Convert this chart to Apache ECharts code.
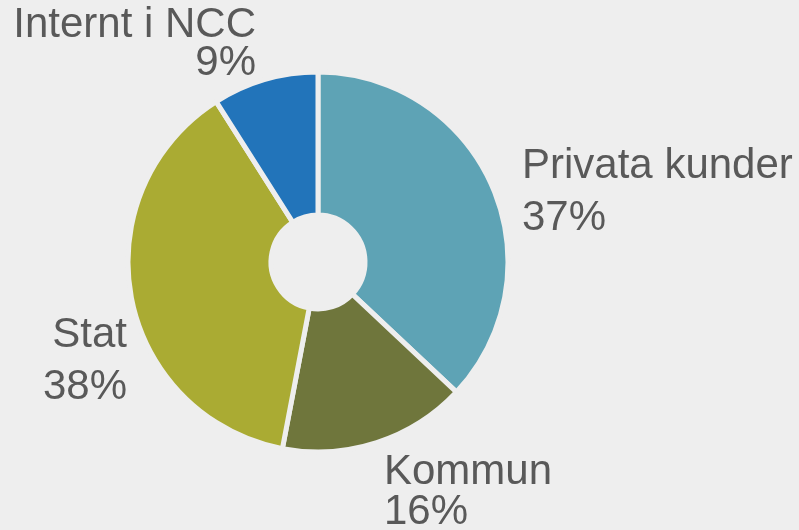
<!DOCTYPE html>
<html lang="sv">
<head>
    <meta charset="UTF-8">
    <title>Kunder</title>
    <script src="https://cdn.jsdelivr.net/npm/echarts/dist/echarts.min.js"></script>
    <style>
        html, body {
            margin: 0;
            padding: 0;
            background-color: #eeeeee;
        }
        #chart {
            width: 799px;
            height: 530px;
        }
    </style>
</head>
<body>
    <div id="chart"></div>

    <script>
        const categories = ['Privata kunder', 'Kommun', 'Stat', 'Internt i NCC'];
        const shares = [37, 16, 38, 9];
        const sliceColors = ['#5ea3b5', '#6f763c', '#aaab33', '#2274ba'];

        // where each label block sits (text block centre, PowerPoint-style placement)
        const labelSpots = [
            { x: 522, y: 192, align: 'left', lineHeight: 52 },
            { x: 384, y: 492, align: 'left', lineHeight: 40 },
            { x: 127, y: 361, align: 'right', lineHeight: 52 },
            { x: 256, y: 44, align: 'right', lineHeight: 38 }
        ];

        const chart = echarts.init(document.getElementById('chart'));

        const pieData = categories.map(function (name, i) {
            return {
                name: name,
                value: shares[i],
                itemStyle: { color: sliceColors[i] },
                label: { lineHeight: labelSpots[i].lineHeight }
            };
        });

        chart.setOption({
            backgroundColor: '#eeeeee',
            animation: false,
            series: [{
                type: 'pie',
                center: [318, 262],
                radius: [47, 190],
                startAngle: 90,
                clockwise: true,
                avoidLabelOverlap: false,
                itemStyle: {
                    borderColor: '#eeeeee',
                    borderWidth: 5
                },
                label: {
                    show: true,
                    position: 'outside',
                    formatter: '{b}\n{c}%',
                    color: '#595959',
                    fontFamily: 'Liberation Sans, Arial, sans-serif',
                    fontSize: 42
                },
                labelLine: { show: false },
                labelLayout: function (params) {
                    const spot = labelSpots[params.dataIndex];
                    return {
                        x: spot.x,
                        y: spot.y,
                        align: spot.align,
                        verticalAlign: 'middle'
                    };
                },
                data: pieData
            }]
        });
    </script>
</body>
</html>
